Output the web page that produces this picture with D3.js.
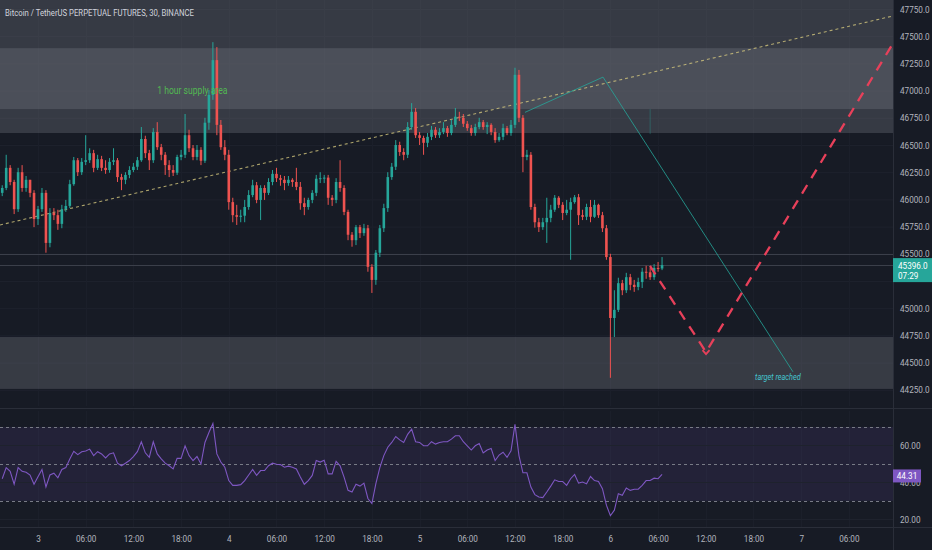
<!DOCTYPE html>
<html>
<head>
<meta charset="utf-8">
<script src="https://cdn.jsdelivr.net/npm/d3@7"></script>
<style>
html, body { margin: 0; padding: 0; background: #171b25; overflow: hidden; }
svg { display: block; }
</style>
</head>
<body>
<svg id="chart" width="932" height="550"></svg>
<script>
// 30 min bars, hours counted from day 3 00:00
const firstHour = -4.5;
const barHours = 0.5;
const firstOpen = 46060;

const closes = [
  46105, 46290, 46160, 45910, 46250, 46105, 46180, 46060, 45820, 45910,
  46060, 45600, 45875, 45855, 45775, 45910, 45940, 46140, 46360, 46250,
  46345, 46360, 46425, 46290, 46370, 46290, 46270, 46345, 46360, 46205,
  46180, 46225, 46270, 46300, 46360, 46555, 46425, 46360, 46620, 46480,
  46410, 46315, 46270, 46245, 46390, 46410, 46590, 46470, 46390, 46455,
  46355, 46705, 46960, 47280, 46685, 46480, 46410, 45975, 45855, 45840,
  45850, 45930, 46040, 46130, 45995, 46105, 46060, 46160, 46235, 46195,
  46180, 46150, 46180, 46160, 46115, 45965, 45930, 45995, 46060, 46190,
  46195, 46200, 46015, 45995, 46160, 46105, 45885, 45675, 45625, 45745,
  45690, 45735, 45380, 45260, 45510, 45735, 45920, 46205, 46300, 46500,
  46435, 46410, 46665, 46805, 46590, 46565, 46520, 46575, 46640, 46590,
  46620, 46655, 46610, 46685, 46760, 46750, 46695, 46655, 46610, 46665,
  46710, 46665, 46685, 46620, 46545, 46575, 46655, 46610, 46685, 47145,
  46750, 46390, 46410, 45930, 45790, 45745, 45790, 45830, 45905, 46015,
  45950, 45875, 45905, 45975, 46020, 45855, 45840, 45930, 45840, 45950,
  45855, 45735, 45470, 44910, 44985, 45230, 45165, 45285, 45215, 45195,
  45240, 45335, 45330, 45285, 45370, 45365, 45396
];
const highs = [
  46130, 46410, 46315, 46180, 46290, 46315, 46215, 46150, 46085, 45940,
  46105, 46085, 45920, 45920, 45905, 45950, 45995, 46180, 46390, 46380,
  46380, 46590, 46470, 46455, 46410, 46400, 46360, 46380, 46470, 46380,
  46235, 46250, 46305, 46335, 46390, 46665, 46585, 46455, 46655, 46710,
  46510, 46435, 46360, 46315, 46410, 46455, 46785, 46640, 46500, 46500,
  46480, 46750, 47005, 47445, 47400, 46730, 46545, 46455, 46015, 45950,
  45905, 45995, 46085, 46180, 46160, 46130, 46130, 46195, 46270, 46290,
  46225, 46215, 46215, 46195, 46290, 46160, 46015, 46015, 46085, 46225,
  46250, 46225, 46225, 46040, 46195, 46360, 46130, 45905, 45700, 45765,
  45765, 45775, 45765, 45405, 45535, 45765, 45960, 46250, 46335, 46545,
  46530, 46470, 46710, 46885, 46840, 46620, 46585, 46610, 46675, 46665,
  46655, 46710, 46675, 46730, 46840, 46805, 46785, 46720, 46685, 46695,
  46750, 46730, 46710, 46700, 46655, 46610, 46695, 46675, 46730, 47210,
  47190, 46775, 46455, 46435, 45960, 45830, 45830, 46015, 45950, 46040,
  46030, 45975, 45995, 46015, 46040, 46050, 45905, 45960, 45995, 45995,
  45960, 45885, 45765, 45500, 45165, 45280, 45260, 45325, 45315, 45260,
  45280, 45370, 45390, 45370, 45405, 45425, 45470
];
const lows = [
  46030, 46085, 46130, 45865, 45885, 46070, 46070, 46020, 45745, 45765,
  45885, 45510, 45560, 45810, 45720, 45735, 45885, 45920, 46125, 46215,
  46225, 46315, 46335, 46250, 46270, 46260, 46235, 46245, 46315, 46160,
  46085, 46140, 46195, 46250, 46270, 46345, 46380, 46270, 46335, 46455,
  46360, 46225, 46205, 46215, 46225, 46360, 46380, 46435, 46360, 46360,
  46315, 46335, 46640, 46915, 46590, 46455, 46360, 45905, 45790, 45765,
  45790, 45790, 45905, 46020, 45965, 45810, 45995, 46040, 46130, 46160,
  46125, 46085, 46125, 46115, 46085, 45905, 45855, 45905, 45965, 46030,
  46150, 46150, 45950, 45940, 45965, 46070, 45855, 45625, 45565, 45580,
  45645, 45665, 45335, 45140, 45215, 45470, 45700, 45885, 46180, 46270,
  46400, 46360, 46380, 46640, 46565, 46500, 46410, 46480, 46545, 46565,
  46565, 46600, 46575, 46590, 46665, 46720, 46665, 46630, 46585, 46585,
  46645, 46640, 46600, 46590, 46520, 46530, 46545, 46590, 46585, 46655,
  46710, 46250, 46360, 45905, 45740, 45700, 45720, 45600, 45790, 45885,
  45920, 45810, 45855, 45445, 45960, 45765, 45810, 45810, 45790, 45830,
  45830, 45700, 45445, 44360, 44735, 44965, 45120, 45140, 45165, 45150,
  45165, 45185, 45270, 45260, 45260, 45335, 45350
];
const rsi = [
  42, 48, 46, 39, 48, 46, 45.5, 44, 39, 43,
  47, 37.5, 44, 45, 42.5, 47, 48, 52.7, 56.8, 55,
  56.6, 57, 58, 54.5, 56.6, 55.4, 53.2, 55.4, 56, 50.4,
  49, 50.4, 51.8, 54, 56.6, 62, 56, 53.6, 62, 55.4,
  52.7, 50.4, 49, 47.3, 53, 53, 59.8, 54.5, 51.8, 54,
  50, 61.6, 67, 71.8, 55.4, 51, 48.2, 41, 38.4, 38.4,
  38.8, 41, 44, 47, 43.8, 46.4, 46.4, 49, 50.4, 49.8,
  49.6, 48.2, 48.8, 48.2, 47.3, 42.9, 39, 41, 43.8, 51.8,
  51, 52, 44.6, 44.6, 51.4, 49, 42.9, 35.7, 34.8, 39,
  38, 39.6, 31.3, 28.6, 39.3, 48, 54.5, 59, 61.6, 64.8,
  63, 61.6, 66, 68.8, 62, 61.6, 59.8, 59.8, 62, 60.7,
  61.6, 62, 62, 63.4, 65.2, 65.2, 62, 59.8, 57.5, 59.8,
  61, 55.9, 57.5, 58.4, 51.8, 54.8, 56.3, 53.6, 57.1, 71.4,
  54.5, 45.2, 45.2, 37.5, 33.4, 32.1, 31.8, 34.8, 38, 41.4,
  40.5, 40.5, 38.4, 42, 44.3, 39.6, 40.2, 39.3, 43.2, 41,
  40.5, 36.6, 27.7, 22, 25, 33.9, 33, 37, 35.7, 36.3,
  36.3, 38.4, 41, 41, 42.3, 42, 44.31
];

const priceTicks = [44250, 44500, 44750, 45000, 45250, 45500, 45750, 46000, 46250, 46500, 46750, 47000, 47250, 47500, 47750];
const rsiTicks = [20, 40, 60];
const rsiLevels = [70, 50, 30];
const timeTickHours = [0, 6, 12, 18, 24, 30, 36, 42, 48, 54, 60, 66, 72, 78, 84, 90, 96, 102];
const timeTickLabels = ["3", "06:00", "12:00", "18:00", "4", "06:00", "12:00", "18:00", "5", "06:00", "12:00", "18:00", "6", "06:00", "12:00", "18:00", "7", "06:00"];

const lastPrice = 45396.0;
const countdown = "07:29";
const lastRsi = 44.31;
const title = "Bitcoin / TetherUS PERPETUAL FUTURES, 30, BINANCE";

// drawings (hour, price)
const supplyOuter = [47900, 46830];
const supplyInner = [47390, 46610];
const demandZone = [44735, 44258];
const hLines = [45500, 45396];
const trendLine = [[-4.78, 45765], [107.55, 47686]];
const tealPath = [[61.26, 46800], [71.07, 47124], [94.97, 44415]];
const tealTick = [[77.0, 46830], [77.0, 46600]];
const redPath = [[76.98, 45388], [84.03, 44597], [107.6, 47440]];
const supplyLabel = { text: "1 hour supply area", hour: 15.0, price: 46965 };
const targetLabel = { text: "target reached", hour: 90.2, price: 44340 };

const W = 932, H = 550;
const plotW = 893;
const priceTop = 0, priceBottom = 406;
const rsiTop = 411, rsiBottom = 527;
const font = "Roboto, 'Noto Sans', sans-serif";
const squeeze = 0.86;

const svg = d3.select("#chart");

const x = d3.scaleLinear().domain([-4.78, 107.55]).range([0, plotW]);
const y = d3.scaleLinear().domain([44101, 47832.7]).range([priceBottom, priceTop]);
const yR = d3.scaleLinear().domain([15.9, 78.6]).range([rsiBottom, rsiTop]);

svg.append("rect").attr("width", W).attr("height", H).attr("fill", "#171b25");

const defs = svg.append("defs");
defs.append("clipPath").attr("id", "clipP")
  .append("rect").attr("x", 0).attr("y", priceTop).attr("width", plotW).attr("height", priceBottom - priceTop);
defs.append("clipPath").attr("id", "clipR")
  .append("rect").attr("x", 0).attr("y", rsiTop).attr("width", plotW).attr("height", rsiBottom - rsiTop);

// grid
const grid = svg.append("g");
grid.selectAll(".hg").data(priceTicks).enter().append("line")
  .attr("x1", 0).attr("x2", plotW)
  .attr("y1", d => y(d) + 0.5).attr("y2", d => y(d) + 0.5)
  .attr("stroke", "#1e222d").attr("stroke-width", 1);
grid.selectAll(".vg").data(timeTickHours).enter().append("line")
  .attr("x1", d => Math.round(x(d)) + 0.5).attr("x2", d => Math.round(x(d)) + 0.5)
  .attr("y1", priceTop).attr("y2", priceBottom)
  .attr("stroke", "#1b1f2a").attr("stroke-width", 1);
grid.selectAll(".vgr").data(timeTickHours).enter().append("line")
  .attr("x1", d => Math.round(x(d)) + 0.5).attr("x2", d => Math.round(x(d)) + 0.5)
  .attr("y1", rsiTop).attr("y2", rsiBottom)
  .attr("stroke", "#1b1f2a").attr("stroke-width", 1);

// zones
const price = svg.append("g").attr("clip-path", "url(#clipP)");
function zone(z, alpha) {
  price.append("rect")
    .attr("x", 0).attr("width", plotW)
    .attr("y", y(z[0])).attr("height", y(z[1]) - y(z[0]))
    .attr("fill", `rgba(120,123,134,${alpha})`);
}
zone(supplyOuter, 0.32);
zone(supplyInner, 0.32);
zone(demandZone, 0.33);

price.selectAll(".hl").data(hLines).enter().append("line")
  .attr("x1", 0).attr("x2", plotW)
  .attr("y1", d => Math.round(y(d)) + 0.5).attr("y2", d => Math.round(y(d)) + 0.5)
  .attr("stroke", "#3b3f4a").attr("stroke-width", 1);

const line = d3.line().x(d => x(d[0])).y(d => y(d[1]));

price.append("path").attr("d", line(trendLine))
  .attr("fill", "none").attr("stroke", "rgba(210,198,125,0.8)")
  .attr("stroke-width", 1.1).attr("stroke-dasharray", "3,3");

// candles
const bars = closes.map((c, i) => {
  const o = i === 0 ? firstOpen : closes[i - 1];
  return {
    t: firstHour + i * barHours,
    o: o, c: c,
    h: Math.max(highs[i], o, c),
    l: Math.min(lows[i], o, c)
  };
});
const up = "#26a69a", down = "#ef5350";
const bw = 2.6;
const candles = price.append("g");
candles.selectAll(".wick").data(bars).enter().append("line")
  .attr("x1", d => x(d.t)).attr("x2", d => x(d.t))
  .attr("y1", d => y(d.h)).attr("y2", d => y(d.l))
  .attr("stroke", d => d.c >= d.o ? up : down).attr("stroke-width", 1);
candles.selectAll(".body").data(bars).enter().append("rect")
  .attr("x", d => x(d.t) - bw / 2).attr("width", bw)
  .attr("y", d => y(Math.max(d.o, d.c)))
  .attr("height", d => Math.max(1, Math.abs(y(d.o) - y(d.c))))
  .attr("fill", d => d.c >= d.o ? up : down);

// teal projection
price.append("path").attr("d", line(tealPath))
  .attr("fill", "none").attr("stroke", "rgba(38,166,154,0.8)").attr("stroke-width", 1);
price.append("path").attr("d", line(tealTick))
  .attr("fill", "none").attr("stroke", "rgba(38,166,154,0.35)").attr("stroke-width", 1);

// red projection
price.append("path").attr("d", line(redPath))
  .attr("fill", "none").attr("stroke", "#e8405a").attr("stroke-width", 2.3)
  .attr("stroke-dasharray", "10,8");
const low = redPath[1];
price.append("path")
  .attr("d", `M${x(low[0]) - 3.5},${y(low[1]) - 2} L${x(low[0])},${y(low[1]) + 2} L${x(low[0]) + 3.5},${y(low[1]) - 2}`)
  .attr("fill", "none").attr("stroke", "#e8405a").attr("stroke-width", 1.8);

// text helper: narrow glyphs like the original
function label(g, px, py, s, opts) {
  opts = opts || {};
  return g.append("text")
    .attr("transform", `translate(${px},${py}) scale(${opts.sx || squeeze},1)`)
    .attr("font-family", font)
    .attr("font-size", opts.size || 9.5)
    .attr("font-style", opts.italic ? "italic" : "normal")
    .attr("text-anchor", opts.anchor || "start")
    .attr("fill", opts.fill || "#b2b5be")
    .text(s);
}

label(price, x(supplyLabel.hour), y(supplyLabel.price), supplyLabel.text, { fill: "#52b852", size: 10 });
label(price, x(targetLabel.hour), y(targetLabel.price), targetLabel.text, { fill: "#45c6d0", size: 8.5, italic: true });

// title
label(svg, 5, 16, title, { fill: "#d1d4dc", size: 9.5, sx: 0.815 });

// pane separators
svg.append("line").attr("x1", 0).attr("x2", W).attr("y1", 408.5).attr("y2", 408.5)
  .attr("stroke", "#2a2e39");
svg.append("line").attr("x1", 0).attr("x2", W).attr("y1", rsiBottom + 0.5).attr("y2", rsiBottom + 0.5)
  .attr("stroke", "#2a2e39");
svg.append("line").attr("x1", plotW + 0.5).attr("x2", plotW + 0.5).attr("y1", 0).attr("y2", H)
  .attr("stroke", "#2a2e39");

// RSI pane
const rp = svg.append("g").attr("clip-path", "url(#clipR)");
rp.append("rect").attr("x", 0).attr("width", plotW)
  .attr("y", yR(70)).attr("height", yR(30) - yR(70))
  .attr("fill", "rgba(126,87,194,0.12)");
rp.selectAll(".lvl").data(rsiLevels).enter().append("line")
  .attr("x1", 0).attr("x2", plotW)
  .attr("y1", d => Math.round(yR(d)) + 0.5).attr("y2", d => Math.round(yR(d)) + 0.5)
  .attr("stroke", "#787b86").attr("stroke-width", 1).attr("stroke-dasharray", "3,3");
rp.selectAll(".rg").data(rsiTicks).enter().append("line")
  .attr("x1", 0).attr("x2", plotW)
  .attr("y1", d => Math.round(yR(d)) + 0.5).attr("y2", d => Math.round(yR(d)) + 0.5)
  .attr("stroke", "#1e222d").attr("stroke-width", 1);
rp.append("path")
  .attr("d", d3.line().x((d, i) => x(firstHour + i * barHours)).y(d => yR(d))(rsi))
  .attr("fill", "none").attr("stroke", "#7e57c2").attr("stroke-width", 1.1);

// price axis; the label hidden under the last price tag is left out
const ly = y(lastPrice);
const shownPriceTicks = priceTicks.filter(p => Math.abs(y(p) - (ly + 5)) > 12);
const pAxis = svg.append("g").attr("transform", `translate(${plotW},0)`)
  .call(d3.axisRight(y).tickValues(shownPriceTicks).tickFormat(d => d.toFixed(1)).tickSize(0).tickPadding(0));
pAxis.select(".domain").remove();
pAxis.selectAll("text")
  .attr("x", 0).attr("dy", "0.32em")
  .attr("transform", `translate(7,0) scale(${squeeze},1)`)
  .attr("font-family", font).attr("font-size", 9.5).attr("fill", "#b2b5be");

// rsi axis
const rAxis = svg.append("g").attr("transform", `translate(${plotW},0)`)
  .call(d3.axisRight(yR).tickValues(rsiTicks).tickFormat(d => d.toFixed(2)).tickSize(0).tickPadding(0));
rAxis.select(".domain").remove();
rAxis.selectAll("text")
  .attr("x", 0).attr("dy", "0.32em")
  .attr("transform", `translate(7,0) scale(${squeeze},1)`)
  .attr("font-family", font).attr("font-size", 9.5).attr("fill", "#b2b5be");

// time axis
const tAxis = svg.append("g").attr("transform", `translate(0,${rsiBottom})`)
  .call(d3.axisBottom(x).tickValues(timeTickHours).tickFormat((d, i) => timeTickLabels[i]).tickSize(0).tickPadding(0));
tAxis.select(".domain").remove();
tAxis.selectAll("text")
  .attr("y", 0).attr("dy", 0)
  .attr("transform", `translate(0,15) scale(${squeeze},1)`)
  .attr("font-family", font).attr("font-size", 9.5).attr("fill", "#b2b5be");

// last price tag
svg.append("rect").attr("x", plotW).attr("y", ly - 7).attr("width", W - plotW).attr("height", 24)
  .attr("fill", "#26a69a");
label(svg, plotW + 5, ly + 3.5, lastPrice.toFixed(1), { fill: "#ffffff", size: 9.5 });
label(svg, plotW + 5, ly + 14, countdown, { fill: "#ffffff", size: 9.5 });

// last rsi tag
const ry = yR(lastRsi);
svg.append("rect").attr("x", plotW).attr("y", ry - 5).attr("width", 28).attr("height", 13)
  .attr("fill", "#7e57c2");
label(svg, plotW + 14, ry + 5, lastRsi.toFixed(2), { fill: "#ffffff", size: 9.5, anchor: "middle" });
</script>
</body>
</html>
